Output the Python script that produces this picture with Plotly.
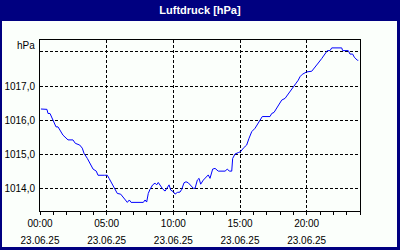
import plotly.graph_objects as go

# time of day in hours (23.06.25), pressure in hPa
hours = [0.07, 0.52, 0.6, 0.75, 0.97, 1.2, 1.35, 1.72, 2.1, 2.47, 2.65, 2.98, 3.17, 3.3, 3.55, 3.8,
         3.98, 4.22, 4.35, 4.85, 5.05, 5.18, 5.38, 5.63, 5.8, 6.05, 6.25, 6.45, 6.55, 6.7, 6.83,
         7.75, 7.88, 8.0, 8.12, 8.25, 8.45, 8.63, 8.75, 8.87, 9.05, 9.2, 9.38, 9.5, 9.68, 9.8,
         10.0, 10.13, 10.3, 10.5, 10.63, 10.8, 10.95, 11.12, 11.3, 11.5, 11.63, 11.8, 11.93,
         12.05, 12.25, 12.43, 12.62, 12.75, 12.95, 13.13, 13.37, 13.88, 14.05, 14.2, 14.38,
         14.45, 14.63, 14.87, 15.05, 15.25, 15.5, 15.68, 15.88, 16.13, 16.37, 16.5, 16.67,
         17.25, 17.38, 17.55, 17.75, 17.93, 18.13, 18.38, 18.58, 18.75, 19.0, 19.2, 19.37,
         19.5, 19.67, 20.0, 20.38, 20.63, 20.87, 21.13, 21.38, 21.55, 21.75, 21.88, 22.63,
         22.7, 23.12, 23.25, 23.45, 23.57, 23.8, 23.87]
pressure = [1016.33, 1016.32, 1016.2, 1016.2, 1016.01, 1015.81, 1015.81, 1015.57, 1015.43, 1015.43,
            1015.33, 1015.28, 1015.19, 1015.04, 1014.89, 1014.7, 1014.58, 1014.52, 1014.4, 1014.4,
            1014.4, 1014.31, 1014.17, 1013.97, 1013.87, 1013.85, 1013.76, 1013.66, 1013.61, 1013.68,
            1013.61, 1013.61, 1013.68, 1013.62, 1013.87, 1013.99, 1014.12, 1014.17, 1014.12, 1014.19,
            1014.07, 1014.0, 1013.94, 1014.02, 1014.12, 1013.97, 1013.92, 1013.85, 1013.9, 1013.91,
            1013.99, 1014.18, 1014.21, 1014.18, 1014.09, 1014.02, 1014.02, 1014.26, 1014.31, 1014.14,
            1014.26, 1014.34, 1014.41, 1014.31, 1014.58, 1014.6, 1014.52, 1014.52, 1014.58, 1014.52,
            1014.52, 1014.89, 1015.02, 1015.06, 1015.09, 1015.19, 1015.28, 1015.48, 1015.67, 1015.77,
            1015.93, 1016.01, 1016.11, 1016.11, 1016.2, 1016.23, 1016.35, 1016.45, 1016.59, 1016.64,
            1016.74, 1016.82, 1016.98, 1017.08, 1017.17, 1017.27, 1017.34, 1017.41, 1017.43, 1017.57,
            1017.67, 1017.8, 1017.96, 1018.03, 1018.03, 1018.11, 1018.11, 1018.03, 1018.03, 1017.93,
            1017.93, 1017.84, 1017.75, 1017.75]

x_tickvals = [0, 5, 10, 15, 20]
x_time_labels = ["00:00", "05:00", "10:00", "15:00", "20:00"]
x_date_labels = ["23.06.25"] * 5
y_tickvals = [1014, 1015, 1016, 1017, 1018]
y_ticklabels = ["1014,0", "1015,0", "1016,0", "1017,0", ""]
title = "Luftdruck [hPa]"
unit = "hPa"

NAVY = "#000080"
FONT = "Liberation Sans"

fig = go.Figure()
fig.add_trace(go.Scatter(x=hours, y=pressure, mode="lines",
                         line=dict(color="#0000ff", width=1), showlegend=False, hoverinfo="skip"))
fig.add_trace(go.Scatter(x=[], y=[], xaxis="x2", showlegend=False))

grid = dict(showgrid=True, gridcolor="black", gridwidth=1, griddash="3px,2px", automargin=False,
            zeroline=False, showline=True, linecolor="black", linewidth=1, mirror=True)

fig.update_layout(
    template="none",
    width=400, height=250,
    margin=dict(l=40, r=40, t=40, b=39),
    paper_bgcolor="#fbfffb", plot_bgcolor="#fbfffb",
    font=dict(family=FONT, size=10, color="black"),
    title=dict(text="<b>" + title + "</b>", x=0.5, xanchor="center", y=1 - 10 / 250,
               yanchor="middle", font=dict(family=FONT, size=11, color="white")),
    xaxis=dict(range=[0, 24], tickvals=x_tickvals, ticktext=x_time_labels,
               ticks="outside", ticklen=3, tickcolor="black", tickwidth=1, ticklabelstandoff=0,
               minor=dict(dtick=1, tick0=0, ticks="outside", ticklen=3, tickcolor="black",
                          tickwidth=1, showgrid=False),
               **grid),
    xaxis2=dict(range=[0, 24], overlaying="x", anchor="y", side="bottom", automargin=False,
                tickvals=x_tickvals, ticktext=x_date_labels, showgrid=False, showline=False,
                zeroline=False, ticks="", ticklabelstandoff=22),
    yaxis=dict(range=[1013.359, 1018.34], tickvals=y_tickvals, ticktext=y_ticklabels,
               ticks="", ticklabelstandoff=2, **grid),
    shapes=[
        dict(type="rect", xref="paper", yref="paper", x0=-0.2, x1=1.2, y0=(211 - 21) / 171, y1=1.3,
             fillcolor=NAVY, line_width=0, layer="above"),
        dict(type="rect", xref="paper", yref="paper", x0=-0.2, x1=(2 - 40) / 320, y0=-0.3, y1=1.3,
             fillcolor=NAVY, line_width=0, layer="above"),
        dict(type="rect", xref="paper", yref="paper", x0=(397 - 40) / 320, x1=1.2, y0=-0.3, y1=1.3,
             fillcolor=NAVY, line_width=0, layer="above"),
        dict(type="rect", xref="paper", yref="paper", x0=-0.2, x1=1.2, y0=-0.3, y1=(211 - 247) / 171,
             fillcolor=NAVY, line_width=0, layer="above"),
    ],
    annotations=[dict(text=unit, xref="paper", yref="paper", x=0, y=1, xanchor="right",
                      yanchor="middle", xshift=-3, yshift=-5, showarrow=False,
                      font=dict(family=FONT, size=10, color="black"))],
)

fig.write_html("out.html")
